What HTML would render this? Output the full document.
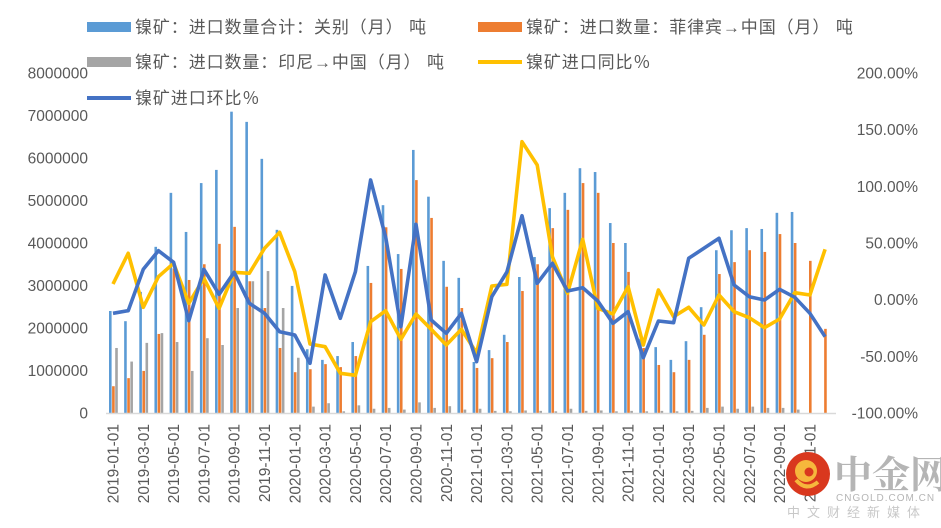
<!DOCTYPE html>
<html><head><meta charset="utf-8"><style>
html,body{margin:0;padding:0;background:#fff;}
svg{display:block;font-family:"Liberation Sans","Noto Sans CJK SC",sans-serif;}
</style></head><body>
<svg id="c" width="941" height="528" viewBox="0 0 941 528" xmlns="http://www.w3.org/2000/svg">
<rect width="941" height="528" fill="#fff"/>
<g font-size="17" fill="#595959" letter-spacing="0.9">
<rect x="87" y="22" width="44" height="10" fill="#5b9bd5"/><text x="135" y="33">镍矿：进口数量合计：关别（月） 吨</text>
<rect x="478" y="22" width="44" height="10" fill="#ed7d31"/><text x="526" y="33">镍矿：进口数量：菲律宾→中国（月） 吨</text>
<rect x="87" y="57" width="44" height="10" fill="#a5a5a5"/><text x="135" y="68">镍矿：进口数量：印尼→中国（月） 吨</text>
<line x1="478" y1="62" x2="522" y2="62" stroke="#ffc000" stroke-width="4"/><text x="526" y="68">镍矿进口同比％</text>
<line x1="87" y1="98" x2="131" y2="98" stroke="#4472c4" stroke-width="4"/><text x="135" y="104">镍矿进口环比％</text>
</g>
<g id="bars"></g>
<line x1="106" y1="413.5" x2="836" y2="413.5" stroke="#d9d9d9" stroke-width="1.5"/>
<g id="lines"></g>
<g id="ax" font-size="15.5" fill="#595959"></g>
<g>
<circle cx="808" cy="474" r="22" fill="#d9381e"/>
<circle cx="806" cy="471" r="11" fill="#f6b73c"/>
<circle cx="809" cy="472" r="4.5" fill="#d9381e"/>
<path d="M796 480 Q806 492 818 482" stroke="#f6b73c" stroke-width="4" fill="none"/>
<text x="834" y="488" font-size="38" font-weight="bold" fill="#b5b5b5" font-family="'Noto Serif CJK SC','Noto Sans CJK SC',serif">中金网</text>
<text x="836" y="501" font-size="10" fill="#b5b5b5" letter-spacing="1">CNGOLD.COM.CN</text>
<text x="787" y="517" font-size="13" fill="#c8c8c8" letter-spacing="7">中文财经新媒体</text>
</g>
</svg>
<script>
var blue=[2.40,2.16,2.85,3.91,5.18,4.26,5.41,5.72,7.09,6.85,5.98,4.31,2.99,1.5,1.25,1.34,1.67,3.46,4.89,3.74,6.19,5.09,3.58,3.18,1.2,1.48,1.84,3.2,3.67,4.82,5.18,5.76,5.67,4.47,4.0,1.75,1.55,1.25,1.69,2.49,3.83,4.3,4.35,4.33,4.71,4.73,0,0];
var orng=[0.63,0.82,0.99,1.86,3.4,3.13,3.5,3.98,4.38,3.1,2.47,1.53,0.96,1.03,1.15,1.08,1.34,3.06,4.37,3.39,5.48,4.59,2.97,2.47,1.06,1.29,1.67,2.87,3.5,4.35,4.78,5.41,5.18,4.0,3.32,1.53,1.13,0.96,1.25,1.84,3.27,3.55,3.83,3.79,4.21,4.0,3.58,1.98];
var grey=[1.53,1.21,1.65,1.88,1.67,0.99,1.76,1.6,2.47,3.1,3.34,2.47,1.3,0.15,0.23,0.04,0.18,0.1,0.12,0.08,0.25,0.12,0.16,0.08,0.1,0.05,0.04,0.06,0.05,0.04,0.1,0.05,0.06,0.04,0.05,0.04,0.05,0.04,0.05,0.12,0.15,0.1,0.15,0.12,0.12,0.08,0,0];
var yl=[284,253.3,307.3,276.7,263.3,303.3,278.3,308.3,272.3,273.3,248.3,232.3,271.7,344,346.7,373.3,375.3,321.7,310.7,339.3,314,329.3,345,329.3,353,286,284.3,141.7,165,256.7,293.3,239.3,308.3,314,286.7,345,290,316.7,307.3,325,295,311.7,317.7,327.7,319,292.7,295,249.3];
var bl=[313.3,310.7,269.3,250.7,262.3,320.7,269.3,294.3,272.3,303.3,313.3,331.7,335,363.3,275,318.3,271.7,180,237.3,326.7,224.3,320,333.3,313.3,361.7,296.7,272,215.7,283.3,263.3,291,287.7,301,323.3,311.7,357.7,321,322.7,258.3,248.3,238.3,285,296.7,300,289.3,297.3,313.3,336.7];
var NS="http://www.w3.org/2000/svg";
function el(t,a,p,txt){var e=document.createElementNS(NS,t);for(var k in a)e.setAttribute(k,a[k]);if(txt!=null)e.textContent=txt;p.appendChild(e);return e;}
var B=document.getElementById('bars'),L=document.getElementById('lines'),A=document.getElementById('ax');
function bar(x,v,c){if(v<=0)return;var h=v*42.5;el('rect',{x:x,y:413-h,width:2.6,height:h,fill:c},B);}
for(var i=0;i<48;i++){var x=109+15.15*i;bar(x,blue[i],'#5b9bd5');bar(x+3.1,orng[i],'#ed7d31');bar(x+6.2,grey[i],'#a5a5a5');}
function pl(arr,c){var s='';for(var i=0;i<48;i++){s+=(113+15.15*i).toFixed(1)+','+arr[i]+' ';}el('polyline',{points:s,fill:'none',stroke:c,'stroke-width':3.6,'stroke-linejoin':'round'},L);}
pl(yl,'#ffc000');pl(bl,'#4472c4');
for(var k=0;k<=8;k++){el('text',{x:88,y:413-k*42.5+5.5,'text-anchor':'end'},A,String(k*1000000));}
var rl=['-100.00%','-50.00%','0.00%','50.00%','100.00%','150.00%','200.00%'];
for(var k=0;k<7;k++){el('text',{x:918,y:413-k*56.67+5.5,'text-anchor':'end'},A,rl[k]);}
for(var i=0;i<48;i+=2){var x=113+15.15*i+5.5;var y=(2019+Math.floor(i/12))+'-'+('0'+(i%12+1)).slice(-2)+'-01';
el('text',{x:0,y:0,'text-anchor':'end',transform:'translate('+x.toFixed(1)+',424) rotate(-90)'},A,y);}
</script>
</body></html>
